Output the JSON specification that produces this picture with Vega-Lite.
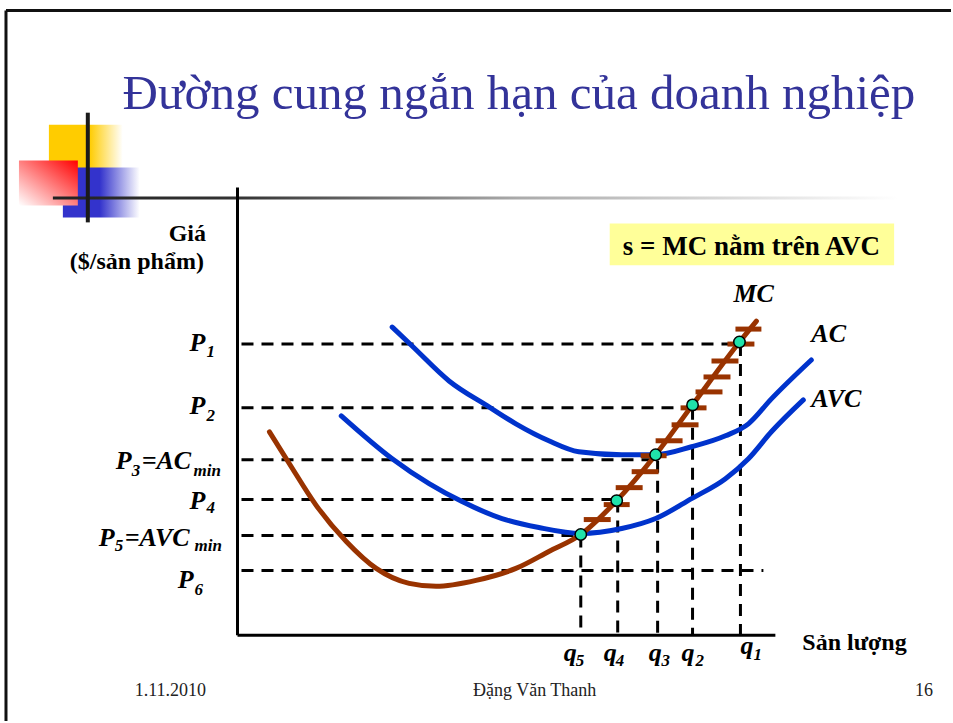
{
  "$schema": "https://vega.github.io/schema/vega-lite/v6.json",
  "width": 953,
  "height": 723,
  "padding": 0,
  "autosize": {"type": "fit", "contains": "padding"},
  "config": {"view": {"stroke": null}},
  "encoding": {
    "x": {"field": "x", "type": "quantitative", "scale": {"domain": [-238, 715], "nice": false, "zero": false}, "axis": null},
    "y": {"field": "y", "type": "quantitative", "scale": {"domain": [-86, 637], "nice": false, "zero": false}, "axis": null}
  },
  "layer": [
    {
      "data": {"values": [
        {"x": -232, "x2": 715, "y": 626.5, "y2": 626.5},
        {"x": -232, "x2": -232, "y": 626.5, "y2": -86}
      ]},
      "mark": {"type": "rule", "color": "#111111", "strokeWidth": 3},
      "encoding": {"x2": {"field": "x2"}, "y2": {"field": "y2"}}
    },
    {
      "data": {"values": [{"x": -189, "x2": -115, "y": 512, "y2": 467}]},
      "mark": {"type": "rect", "fill": {"gradient": "linear", "x1": 0, "y1": 0, "x2": 1, "y2": 0, "stops": [{"offset": 0, "color": "#ffcc00"}, {"offset": 0.55, "color": "#ffcc00"}, {"offset": 1, "color": "#ffffff"}]}},
      "encoding": {"x2": {"field": "x2"}, "y2": {"field": "y2"}}
    },
    {
      "data": {"values": [{"x": -175, "x2": -98, "y": 469, "y2": 419}]},
      "mark": {"type": "rect", "fill": {"gradient": "linear", "x1": 0, "y1": 0, "x2": 1, "y2": 0, "stops": [{"offset": 0, "color": "#3333cc"}, {"offset": 0.48, "color": "#3333cc"}, {"offset": 1, "color": "#ffffff"}]}},
      "encoding": {"x2": {"field": "x2"}, "y2": {"field": "y2"}}
    },
    {
      "data": {"values": [{"x": -219, "x2": -160, "y": 476, "y2": 431}]},
      "mark": {"type": "rect", "fill": {"gradient": "linear", "x1": 1, "y1": 0, "x2": 0, "y2": 1, "stops": [{"offset": 0, "color": "#ff0000"}, {"offset": 1, "color": "#ffffff"}]}},
      "encoding": {"x2": {"field": "x2"}, "y2": {"field": "y2"}}
    },
    {
      "data": {"values": [{"x": -185, "x2": 662, "y": 440, "y2": 437}]},
      "mark": {"type": "rect", "fill": {"gradient": "linear", "x1": 0, "y1": 0, "x2": 1, "y2": 0, "stops": [{"offset": 0, "color": "#222222"}, {"offset": 0.22, "color": "#333333"}, {"offset": 0.55, "color": "#aaaaaa"}, {"offset": 1, "color": "#ffffff"}]}},
      "encoding": {"x2": {"field": "x2"}, "y2": {"field": "y2"}}
    },
    {
      "data": {"values": [{"x": -150, "x2": -150, "y": 524, "y2": 414}]},
      "mark": {"type": "rule", "color": "#1a1a1a", "strokeWidth": 4},
      "encoding": {"x2": {"field": "x2"}, "y2": {"field": "y2"}}
    },
    {
      "data": {"values": [{"x": 373, "x2": 658, "y": 413, "y2": 371}]},
      "mark": {"type": "rect", "fill": "#ffff99"},
      "encoding": {"x2": {"field": "x2"}, "y2": {"field": "y2"}}
    },
    {
      "data": {"values": [{"x": 515, "y": 381, "t": "s = MC nằm trên AVC"}]},
      "mark": {"type": "text", "font": "Liberation Serif", "fontWeight": "bold", "fontSize": 27, "align": "center", "baseline": "alphabetic", "color": "#000000"},
      "encoding": {"text": {"field": "t"}}
    },
    {
      "data": {"values": [{"x": 282, "y": 528, "t": "Đường cung ngắn hạn của doanh nghiệp"}]},
      "mark": {"type": "text", "font": "Liberation Serif", "fontSize": 49, "align": "center", "baseline": "alphabetic", "color": "#333399"},
      "encoding": {"text": {"field": "t"}}
    },
    {
      "data": {"values": [
        {"x": -69, "y": 395, "t": "Giá"},
        {"x": -168, "y": 367, "t": "($/sản phẩm)"},
        {"x": 566, "y": -15, "t": "Sản lượng"}
      ]},
      "mark": {"type": "text", "font": "Liberation Serif", "fontWeight": "bold", "fontSize": 24, "align": "left", "baseline": "alphabetic", "color": "#000000"},
      "encoding": {"text": {"field": "t"}}
    },
    {
      "data": {"values": [
        {"x": 4, "x2": 504, "y": 292, "y2": 292},
        {"x": 4, "x2": 456, "y": 228, "y2": 228},
        {"x": 4, "x2": 419, "y": 176, "y2": 176},
        {"x": 4, "x2": 380, "y": 136, "y2": 136},
        {"x": 4, "x2": 344, "y": 100, "y2": 100},
        {"x": 4, "x2": 527, "y": 65, "y2": 65},
        {"x": 344, "x2": 344, "y": 100, "y2": 1},
        {"x": 381, "x2": 381, "y": 135, "y2": 1},
        {"x": 421, "x2": 421, "y": 175, "y2": 1},
        {"x": 456, "x2": 456, "y": 228, "y2": 1},
        {"x": 504, "x2": 504, "y": 292, "y2": 1}
      ]},
      "mark": {"type": "rule", "color": "#000000", "strokeWidth": 3, "strokeDash": [12, 8]},
      "encoding": {"x2": {"field": "x2"}, "y2": {"field": "y2"}}
    },
    {
      "data": {"values": [
        {"x": 0, "x2": 0, "y": 449, "y2": 0},
        {"x": 0, "x2": 539, "y": 0, "y2": 0}
      ]},
      "mark": {"type": "rule", "color": "#000000", "strokeWidth": 3},
      "encoding": {"x2": {"field": "x2"}, "y2": {"field": "y2"}}
    },
    {
      "data": {"values": [
        {"c": "AC", "x": 155, "y": 309}, {"c": "AC", "x": 175, "y": 290}, {"c": "AC", "x": 212, "y": 255},
        {"c": "AC", "x": 252, "y": 229}, {"c": "AC", "x": 279, "y": 212}, {"c": "AC", "x": 312, "y": 195},
        {"c": "AC", "x": 342, "y": 184}, {"c": "AC", "x": 385, "y": 181}, {"c": "AC", "x": 419, "y": 181},
        {"c": "AC", "x": 455, "y": 189}, {"c": "AC", "x": 489, "y": 200}, {"c": "AC", "x": 512, "y": 212},
        {"c": "AC", "x": 535, "y": 237}, {"c": "AC", "x": 575, "y": 276},
        {"c": "AVC", "x": 104, "y": 220}, {"c": "AVC", "x": 155, "y": 177}, {"c": "AVC", "x": 192, "y": 152},
        {"c": "AVC", "x": 225, "y": 134}, {"c": "AVC", "x": 265, "y": 117}, {"c": "AVC", "x": 302, "y": 108},
        {"c": "AVC", "x": 344, "y": 102}, {"c": "AVC", "x": 385, "y": 107}, {"c": "AVC", "x": 419, "y": 117},
        {"c": "AVC", "x": 455, "y": 137}, {"c": "AVC", "x": 489, "y": 157}, {"c": "AVC", "x": 512, "y": 177},
        {"c": "AVC", "x": 535, "y": 204}, {"c": "AVC", "x": 567, "y": 236},
        {"c": "MC", "x": 32, "y": 204}, {"c": "MC", "x": 52, "y": 172}, {"c": "MC", "x": 79, "y": 130},
        {"c": "MC", "x": 109, "y": 94}, {"c": "MC", "x": 139, "y": 67}, {"c": "MC", "x": 172, "y": 52},
        {"c": "MC", "x": 199, "y": 49}, {"c": "MC", "x": 239, "y": 55}, {"c": "MC", "x": 279, "y": 67},
        {"c": "MC", "x": 312, "y": 84}, {"c": "MC", "x": 344, "y": 101}, {"c": "MC", "x": 380, "y": 135},
        {"c": "MC", "x": 419, "y": 181}, {"c": "MC", "x": 456, "y": 231}, {"c": "MC", "x": 503, "y": 294},
        {"c": "MC", "x": 520, "y": 315}
      ]},
      "mark": {"type": "line", "strokeWidth": 5, "strokeCap": "round", "interpolate": "monotone"},
      "encoding": {
        "color": {"field": "c", "type": "nominal", "scale": {"domain": ["AC", "AVC", "MC"], "range": ["#0033cc", "#0033cc", "#993300"]}, "legend": null}
      }
    },
    {
      "data": {"values": [
        {"x": 499, "x2": 525, "y": 307, "y2": 307},
        {"x": 491, "x2": 518, "y": 292, "y2": 292},
        {"x": 475, "x2": 502, "y": 275, "y2": 275},
        {"x": 467, "x2": 494, "y": 259, "y2": 259},
        {"x": 459, "x2": 486, "y": 244, "y2": 244},
        {"x": 444, "x2": 470, "y": 228, "y2": 228},
        {"x": 435, "x2": 462, "y": 211, "y2": 211},
        {"x": 419, "x2": 446, "y": 195, "y2": 195},
        {"x": 404, "x2": 430, "y": 180, "y2": 180},
        {"x": 395, "x2": 422, "y": 164, "y2": 164},
        {"x": 379, "x2": 406, "y": 148, "y2": 148},
        {"x": 367, "x2": 393, "y": 131, "y2": 131},
        {"x": 347, "x2": 374, "y": 116, "y2": 116}
      ]},
      "mark": {"type": "rule", "color": "#993300", "strokeWidth": 5},
      "encoding": {"x2": {"field": "x2"}, "y2": {"field": "y2"}}
    },
    {
      "data": {"values": [
        {"x": 344, "y": 101}, {"x": 380, "y": 135}, {"x": 419, "y": 181}, {"x": 456, "y": 231}, {"x": 503, "y": 294}
      ]},
      "mark": {"type": "point", "filled": true, "fill": "#20e3aa", "stroke": "#000000", "strokeWidth": 1.5, "size": 130, "opacity": 1}
    },
    {
      "data": {"values": [
        {"x": -48, "y": 285, "t": "P"},
        {"x": -48, "y": 222, "t": "P"},
        {"x": -122, "y": 167, "t": "P"},
        {"x": -96, "y": 167, "t": "=AC"},
        {"x": -48, "y": 127, "t": "P"},
        {"x": -139, "y": 89, "t": "P"},
        {"x": -113, "y": 89, "t": "=AVC"},
        {"x": -60, "y": 47, "t": "P"},
        {"x": 497, "y": 334, "t": "MC"},
        {"x": 575, "y": 294, "t": "AC"},
        {"x": 575, "y": 229, "t": "AVC"},
        {"x": 327, "y": -26, "t": "q"},
        {"x": 367, "y": -26, "t": "q"},
        {"x": 412, "y": -26, "t": "q"},
        {"x": 445, "y": -26, "t": "q"},
        {"x": 504, "y": -19, "t": "q"}
      ]},
      "mark": {"type": "text", "font": "Liberation Serif", "fontWeight": "bold", "fontStyle": "italic", "fontSize": 26, "align": "left", "baseline": "alphabetic", "color": "#000000"},
      "encoding": {"text": {"field": "t"}}
    },
    {
      "data": {"values": [
        {"x": -31, "y": 279, "t": "1"},
        {"x": -31, "y": 215, "t": "2"},
        {"x": -106, "y": 160, "t": "3"},
        {"x": -44, "y": 160, "t": "min"},
        {"x": -31, "y": 123, "t": "4"},
        {"x": -123, "y": 84, "t": "5"},
        {"x": -43, "y": 84, "t": "min"},
        {"x": -43, "y": 40, "t": "6"},
        {"x": 339, "y": -31, "t": "5"},
        {"x": 379, "y": -31, "t": "4"},
        {"x": 425, "y": -31, "t": "3"},
        {"x": 459, "y": -31, "t": "2"},
        {"x": 517, "y": -25, "t": "1"}
      ]},
      "mark": {"type": "text", "font": "Liberation Serif", "fontWeight": "bold", "fontStyle": "italic", "fontSize": 17, "align": "left", "baseline": "alphabetic", "color": "#000000"},
      "encoding": {"text": {"field": "t"}}
    },
    {
      "data": {"values": [
        {"x": -103, "y": -61, "t": "1.11.2010"},
        {"x": 236, "y": -61, "t": "Đặng Văn Thanh"},
        {"x": 679, "y": -61, "t": "16"}
      ]},
      "mark": {"type": "text", "font": "Liberation Serif", "fontSize": 18, "align": "left", "baseline": "alphabetic", "color": "#222222"},
      "encoding": {"text": {"field": "t"}}
    }
  ]
}
